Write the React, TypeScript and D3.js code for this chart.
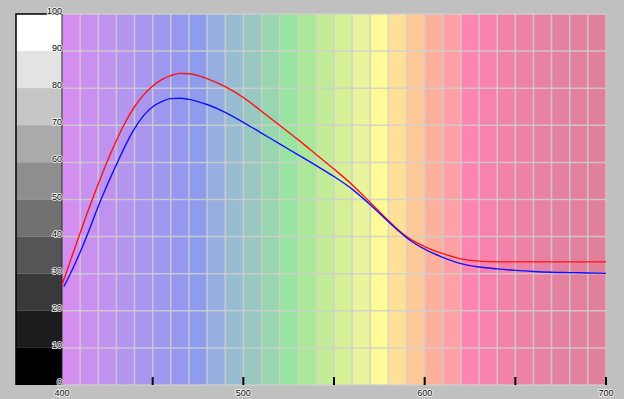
import React from "react";
import * as d3 from "d3";

const bandStarts = [400,410,420,430,440,450,460,470,480,490,500,510,520,530,540,550,560,570,580,590,600,610,620,630,640,650,660,670,680,690];
const bandColors = ["#d48ef0","#c990f0","#c092f0","#b595ef","#a896ef","#9e98ee","#9598ee","#8e9cee","#96aee0","#98bcd0","#98c8c0","#98d6b0","#98e4a0","#aae898","#c2ec98","#d6f098","#eaf49c","#fffa98","#ffe096","#ffc898","#ffb09c","#ffa0a6","#ff84b0","#f882ae","#f282aa","#ec82a6","#e882a4","#e480a0","#e2809e","#e0809a"];

const redX = [400,405,410,415,420,425,430,435,440,445,450,455,460,465,470,475,480,490,500,510,520,530,540,550,560,570,580,585,590,600,610,620,630,640,650,660,670,680,690,700];
const redY = [27,34,41,47.8,54.2,60.3,65.9,70.9,75,78.2,80.6,82.3,83.4,84,83.9,83.4,82.6,80.4,77.5,73.8,70,66.2,62.2,58.2,54,49.2,44.3,42,40,37.3,35.4,34,33.4,33.2,33.2,33.2,33.2,33.2,33.2,33.2];

const blueX = [401,405,410,415,420,425,430,435,440,445,450,455,460,465,470,480,490,500,510,520,530,540,550,560,570,580,585,590,600,610,620,630,640,650,660,670,680,690,700];
const blueY = [26.5,30.4,35.8,41.8,48.2,54,59.4,64.6,69.1,72.6,75,76.4,77.2,77.3,77,75.6,73.5,70.8,67.9,65,62.1,59.2,56.2,52.8,48.6,44,41.8,39.7,36.6,34.4,32.7,31.8,31.3,30.9,30.6,30.4,30.3,30.2,30.1];

const yTicks = [0,10,20,30,40,50,60,70,80,90,100];
const xTickMarks = [450,500,550,600,650,700];
const xLabels = [400,500,600,700];

export default function App() {
  const W = 624, H = 399;
  const left = 62, right = 606, top = 14, bottom = 385;
  const x = d3.scaleLinear().domain([400, 700]).range([left, right]);
  const y = d3.scaleLinear().domain([0, 100]).range([bottom, top]);
  const line = d3.line<[number, number]>().x(d => x(d[0])).y(d => y(d[1])).curve(d3.curveMonotoneX);
  const redPts = redX.map((v, i) => [v, redY[i]] as [number, number]);
  const bluePts = blueX.map((v, i) => [v, blueY[i]] as [number, number]);
  const grid = d3.range(400, 701, 10);
  return (
    <svg width={W} height={H} style={{ position: "absolute", left: 0, top: 0 }} fontFamily="Liberation Sans, Arial, sans-serif">
      <rect x={0} y={0} width={W} height={H} fill="#c0c0c0" />
      {bandStarts.map((b, i) => (
        <rect key={b} x={x(b)} y={top} width={x(b + 10) - x(b) + 0.5} height={bottom - top} fill={bandColors[i]} />
      ))}
      {grid.map(g => (
        <line key={"gx" + g} x1={x(g)} x2={x(g)} y1={top} y2={bottom} stroke="#cfcfcf" strokeOpacity={0.85} strokeWidth={1.5} />
      ))}
      {yTicks.map(t => (
        <line key={"gy" + t} x1={left} x2={right} y1={y(t)} y2={y(t)} stroke="#cfcfcf" strokeOpacity={0.85} strokeWidth={1.5} />
      ))}
      {yTicks.slice(0, 10).map((t, i) => {
        const g = Math.round((i / 9) * 255);
        return <rect key={"gs" + t} x={16} y={y(t + 10)} width={left - 16} height={y(t) - y(t + 10)} fill={`rgb(${g},${g},${g})`} />;
      })}
      <path d={`M16,${bottom}V${top}H${left}`} fill="none" stroke="#000" strokeWidth={1.5} />
      <line x1={left} x2={left} y1={top} y2={bottom} stroke="#222" strokeWidth={1} />
      <path d={line(redPts) || ""} fill="none" stroke="#ff1010" strokeWidth={1.4} />
      <path d={line(bluePts) || ""} fill="none" stroke="#1010ff" strokeWidth={1.4} />
      {xTickMarks.map(t => (
        <line key={"xt" + t} x1={x(t)} x2={x(t)} y1={bottom - 8} y2={bottom} stroke="#000" strokeWidth={2} />
      ))}
      {xLabels.map(t => (
        <text key={"xl" + t} x={x(t)} y={396} fontSize={9} textAnchor="middle" fill="#000" stroke="#fff" strokeWidth={1.5} paintOrder="stroke">{t}</text>
      ))}
      {yTicks.map(t => (
        <text key={"yl" + t} x={left} y={y(t)} fontSize={9} textAnchor="end" fill="#000" stroke="#fff" strokeWidth={1.5} paintOrder="stroke">{t}</text>
      ))}
    </svg>
  );
}
